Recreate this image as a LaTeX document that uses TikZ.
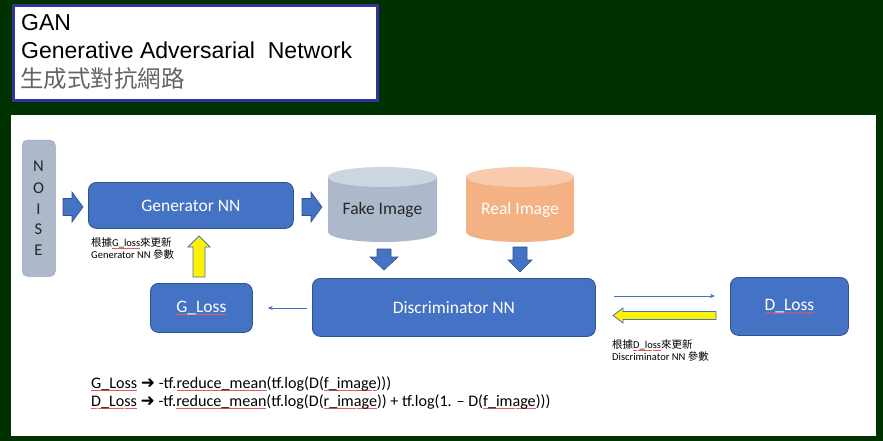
\documentclass[tikz,border=0pt]{standalone}
\usepackage{fontspec}
\setmainfont{Carlito}
\newfontfamily\titlefont{Liberation Sans}
\newfontfamily\cjk{Noto Sans CJK TC}
\newfontfamily\symfont{DejaVu Sans}
\usetikzlibrary{arrows.meta,calc}
\definecolor{bggreen}{RGB}{0,50,0}
\definecolor{navy}{RGB}{51,51,153}
\definecolor{nnblue}{RGB}{68,114,196}
\definecolor{nnedge}{RGB}{47,82,143}
\definecolor{noisegray}{RGB}{173,185,202}
\definecolor{noiseedge}{RGB}{150,165,185}
\definecolor{fakebody}{RGB}{173,185,202}
\definecolor{faketop}{RGB}{205,213,224}
\definecolor{realbody}{RGB}{244,177,131}
\definecolor{realtop}{RGB}{248,203,173}
\definecolor{graytxt}{RGB}{100,100,100}
\definecolor{squig}{RGB}{235,90,90}
\newcommand\sqw[2]{\setbox0=\hbox{#2}\rlap{\textcolor{squig}{\hbox to \wd0{\xleaders\hbox to 2pt{\rule[-3pt]{1pt}{0.6pt}\rule[-2.4pt]{1pt}{0.6pt}}\hfill}}}\textcolor{#1}{#2}}
\newcommand\heavyarrow{{\symfont\fontsize{17}{18}\selectfont ➜}}
\tikzset{
  nnbox/.style={draw=nnedge, line width=0.8pt, fill=nnblue, rounded corners=8pt, text=white, font=\fontsize{17.5}{20}\selectfont, inner sep=0pt},
  blockarrow/.style={draw=nnedge, line width=0.6pt, fill=nnblue},
  yellowarrow/.style={draw=nnblue, line width=0.8pt, fill=yellow},
  thinarrow/.style={draw=nnblue, line width=0.6pt, -{Stealth[length=5pt,width=4pt]}},
  note/.style={font=\fontsize{10.5}{13}\selectfont, align=left, anchor=north west, inner sep=0pt}
}
\begin{document}
\begin{tikzpicture}[x=1pt,y=-1pt]
\useasboundingbox (0,0) rectangle (883,441);
\fill[bggreen] (0,0) rectangle (883,441);
% title box
\node[draw=navy, line width=3pt, fill=white, minimum width=364pt, minimum height=95pt, anchor=north west, inner sep=0pt] (title) at (11.5,4.5) {};
\node[anchor=base west, inner sep=0pt, font=\titlefont\fontsize{23}{26}\selectfont] (t1) at (21,30.5) {GAN};
\node[anchor=base west, inner sep=0pt, font=\titlefont\fontsize{23}{26}\selectfont] (t2) at (21,58.5) {Generative Adversarial\ \ Network};
\node[anchor=base west, inner sep=0pt, font=\cjk\fontsize{23.5}{26}\selectfont, text=graytxt] (t3) at (20,88) {生成式對抗網路};
% main panel
\fill[white] (11,115) rectangle (876,436);
% NOISE
\node[fill=noisegray, draw=noiseedge, line width=0.5pt, rounded corners=5pt, minimum width=33pt, minimum height=136pt, anchor=north west, inner sep=0pt] (noise) at (22,140) {};
\foreach \l/\yy in {N/166,O/188,I/209,S/229,E/250}
  \node[font=\fontsize{16.5}{18}\selectfont, text=black!85, inner sep=0pt] at (38.5,\yy) {\l};
% Generator
\node[nnbox, minimum width=205pt, minimum height=46pt, anchor=north west] (gen) at (88,182) {Generator NN};
% Fake image cylinder
\fill[fakebody] (328,177) -- (328,232) arc[start angle=180, end angle=360, x radius=54.5pt, y radius=10pt] -- (437,177) -- cycle;
\fill[faketop] (382.5,177) ellipse[x radius=54.5pt, y radius=10pt];
\node[font=\fontsize{17.5}{20}\selectfont, text=black!85, inner sep=0pt] (fake) at (382.5,210) {Fake Image};
% Real image cylinder
\fill[realbody] (466,177) -- (466,232) arc[start angle=180, end angle=360, x radius=54pt, y radius=10pt] -- (574,177) -- cycle;
\fill[realtop] (520,177) ellipse[x radius=54pt, y radius=10pt];
\node[font=\fontsize{17.5}{20}\selectfont, text=white, inner sep=0pt] (real) at (520,210) {Real Image};
% Discriminator
\node[nnbox, minimum width=283pt, minimum height=58pt, anchor=north west] (disc) at (312,278) {Discriminator NN};
% G_Loss
\node[nnbox, minimum width=102pt, minimum height=49pt, anchor=north west] (gloss) at (150,283) {\sqw{white}{G\_Loss}};
% D_Loss
\node[nnbox, minimum width=118pt, minimum height=58pt, anchor=north west] (dloss) at (730,277) {\sqw{white}{D\_Loss}};
% block arrows (right)
\path[blockarrow] (63,198.5) -- (72,198.5) -- (72,192) -- (83,207) -- (72,222) -- (72,215.5) -- (63,215.5) -- cycle;
\path[blockarrow] (302,198.5) -- (311,198.5) -- (311,192) -- (322,207) -- (311,222) -- (311,215.5) -- (302,215.5) -- cycle;
% block arrows (down)
\path[blockarrow] (377,249) -- (391,249) -- (391,257) -- (398,257) -- (384,270) -- (370,257) -- (377,257) -- cycle;
\path[blockarrow] (513,247) -- (527,247) -- (527,260) -- (532,260) -- (520,272) -- (508,260) -- (513,260) -- cycle;
% yellow arrows
\path[yellowarrow] (199,236) -- (210,247) -- (205,247) -- (205,277) -- (193,277) -- (193,247) -- (188,247) -- cycle;
\path[yellowarrow] (613,315.5) -- (623,308) -- (623,311.5) -- (716,311.5) -- (716,319.5) -- (623,319.5) -- (623,323) -- cycle;
% thin arrows
\draw[thinarrow] ($(disc.west |- 0,308)+(-5,0)$) -- ($(gloss.east |- 0,308)+(15,0)$);
\draw[thinarrow] ($(disc.east |- 0,296)+(18,0)$) -- ($(dloss.west |- 0,296)+(-15,0)$);
% notes
\node[note] (n1) at (91,237) {\cjk 根據\rmfamily\sqw{black}{G\_loss}\cjk 來更新\\[-1pt]\rmfamily Generator NN \cjk 參數};
\node[note] (n2) at (612,339) {\cjk 根據\rmfamily\sqw{black}{D\_loss}\cjk 來更新\\[-1pt]\rmfamily Discriminator NN \cjk 參數};
% formulas
\node[anchor=base west, inner sep=0pt, font=\fontsize{16.1}{18}\selectfont] (f1) at (91,388) {\sqw{black}{G\_Loss} \heavyarrow\ -tf.\sqw{black}{reduce\_mean}(tf.log(D(\sqw{black}{f\_image})))};
\node[anchor=base west, inner sep=0pt, font=\fontsize{16.1}{18}\selectfont] (f2) at (91,406) {\sqw{black}{D\_Loss} \heavyarrow\ -tf.\sqw{black}{reduce\_mean}(tf.log(D(\sqw{black}{r\_image})) + tf.log(1. – D(\sqw{black}{f\_image})))};
\end{tikzpicture}
\end{document}
